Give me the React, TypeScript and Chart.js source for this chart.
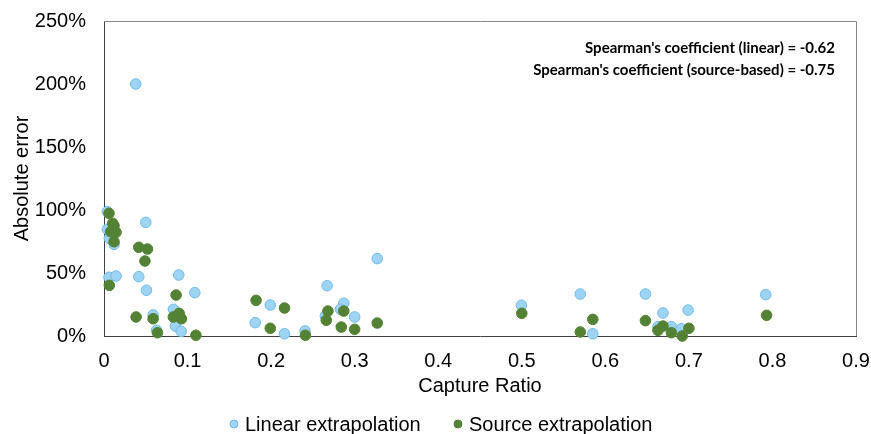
import React, { useEffect, useRef } from "react";
import { Chart, registerables } from "chart.js";

Chart.register(...registerables);

const linearX = [0.038, 0.004, 0.004, 0.0064, 0.012, 0.05, 0.006, 0.0144, 0.0416, 0.0895, 0.0508, 0.1087, 0.0831, 0.0588, 0.0855, 0.063, 0.0923, 0.181, 0.199, 0.216, 0.2406, 0.267, 0.265, 0.287, 0.283, 0.3, 0.327, 0.4996, 0.57, 0.585, 0.648, 0.669, 0.663, 0.679, 0.691, 0.699, 0.792];
const linearY = [2.0, 0.987, 0.847, 0.775, 0.728, 0.902, 0.466, 0.476, 0.471, 0.484, 0.363, 0.344, 0.212, 0.167, 0.079, 0.045, 0.037, 0.106, 0.246, 0.018, 0.04, 0.399, 0.159, 0.26, 0.212, 0.151, 0.614, 0.244, 0.333, 0.018, 0.333, 0.183, 0.074, 0.074, 0.058, 0.206, 0.328];

const sourceX = [0.006, 0.0104, 0.012, 0.008, 0.0144, 0.012, 0.0416, 0.052, 0.049, 0.0064, 0.0863, 0.09, 0.083, 0.0927, 0.0384, 0.0588, 0.064, 0.11, 0.182, 0.199, 0.216, 0.241, 0.268, 0.266, 0.287, 0.284, 0.3, 0.327, 0.5, 0.57, 0.585, 0.648, 0.669, 0.663, 0.679, 0.692, 0.7, 0.793];
const sourceY = [0.974, 0.894, 0.875, 0.828, 0.823, 0.748, 0.704, 0.69, 0.595, 0.402, 0.325, 0.18, 0.151, 0.137, 0.151, 0.137, 0.026, 0.006, 0.283, 0.061, 0.222, 0.006, 0.198, 0.125, 0.198, 0.071, 0.053, 0.103, 0.18, 0.032, 0.132, 0.122, 0.079, 0.045, 0.026, 0.0, 0.061, 0.164];

const seriesNames = ["Linear extrapolation", "Source extrapolation"];
const xTickValues = [0, 0.1, 0.2, 0.3, 0.4, 0.5, 0.6, 0.7, 0.8, 0.9];
const yTickValues = [0, 0.5, 1, 1.5, 2, 2.5];
const annotationLines = [
  "Spearman's coefficient (linear) = -0.62",
  "Spearman's coefficient (source-based) = -0.75",
];

const BLUE_FILL = "#9dd3f3";
const BLUE_BORDER = "#72bbe9";
const GREEN = "#548235";
const FONT = "'Liberation Sans', Arial, sans-serif";

export default function App() {
  const ref = useRef<HTMLCanvasElement | null>(null);

  useEffect(() => {
    document.body.style.margin = "0";
    const canvas = ref.current;
    if (!canvas) return;

    const framePlugin = {
      id: "frame",
      afterDraw(chart: any) {
        const { ctx, chartArea } = chart;
        const { left, right, top, bottom } = chartArea;
        ctx.save();
        ctx.strokeStyle = "#868686";
        ctx.lineWidth = 1;
        ctx.beginPath();
        ctx.moveTo(left, top + 0.5);
        ctx.lineTo(right + 0.5, top + 0.5);
        ctx.lineTo(right + 0.5, bottom);
        ctx.stroke();
        // annotation
        ctx.fillStyle = "#000";
        ctx.font = "bold 15px Lato, 'Open Sans', sans-serif";
        ctx.textAlign = "right";
        ctx.textBaseline = "middle";
        ctx.fillText(annotationLines[0], 835, 48);
        ctx.fillText(annotationLines[1], 835, 70);
        // legend
        const ds = chart.data.datasets;
        ctx.font = `20px ${FONT}`;
        ctx.textAlign = "left";
        const legendY = 424;
        const starts = [234, 458];
        ds.forEach((d: any, i: number) => {
          const x = starts[i];
          ctx.beginPath();
          ctx.arc(x, legendY, 4, 0, Math.PI * 2);
          ctx.fillStyle = d.backgroundColor;
          ctx.fill();
          ctx.strokeStyle = d.borderColor;
          ctx.lineWidth = 1;
          ctx.stroke();
          ctx.fillStyle = "#000";
          ctx.fillText(d.label, x + 11, legendY + 1);
        });
        ctx.restore();
      },
    };

    const chart = new Chart(canvas, {
      type: "scatter",
      data: {
        datasets: [
          {
            label: seriesNames[0],
            data: linearX.map((x, i) => ({ x, y: linearY[i] })),
            backgroundColor: BLUE_FILL,
            borderColor: BLUE_BORDER,
            borderWidth: 1,
            pointRadius: 5.3,
            order: 1,
            clip: false as any,
          },
          {
            label: seriesNames[1],
            data: sourceX.map((x, i) => ({ x, y: sourceY[i] })),
            backgroundColor: GREEN,
            borderColor: GREEN,
            borderWidth: 1,
            pointRadius: 5.3,
            order: 0,
            clip: false as any,
          },
        ],
      },
      options: {
        animation: false,
        responsive: false,
        maintainAspectRatio: false,
        layout: { padding: { left: 0, right: 15, top: 21, bottom: 36 } },
        plugins: { legend: { display: false }, tooltip: { enabled: false } },
        scales: {
          x: {
            type: "linear",
            min: 0,
            max: 0.9,
            afterFit(scale: any) {
              scale.height = 62;
              scale.paddingLeft = 0;
              scale.paddingRight = 0;
            },
            afterBuildTicks(scale: any) {
              scale.ticks = xTickValues.map((v) => ({ value: v }));
            },
            ticks: {
              color: "#000",
              font: { family: FONT, size: 20 },
              padding: 13,
              maxRotation: 0,
              callback: (v: any) => String(Math.round(Number(v) * 10) / 10),
            },
            grid: { display: false, drawTicks: false },
            border: { color: "#404040", width: 1 },
            title: {
              display: true,
              text: "Capture Ratio",
              color: "#000",
              font: { family: FONT, size: 20 },
              padding: { top: 1, bottom: 0 },
            },
          },
          y: {
            type: "linear",
            min: 0,
            max: 2.5,
            afterFit(scale: any) {
              scale.width = 104;
              scale.paddingTop = 0;
              scale.paddingBottom = 0;
            },
            afterBuildTicks(scale: any) {
              scale.ticks = yTickValues.map((v) => ({ value: v }));
            },
            ticks: {
              color: "#000",
              font: { family: FONT, size: 20 },
              padding: 18,
              callback: (v: any) => Math.round(Number(v) * 100) + "%",
            },
            grid: { display: false, drawTicks: false },
            border: { color: "#404040", width: 1 },
            title: {
              display: true,
              text: "Absolute error",
              color: "#000",
              font: { family: FONT, size: 20 },
              padding: { top: 10, bottom: 0 },
            },
          },
        },
      },
      plugins: [framePlugin],
    });

    return () => chart.destroy();
  }, []);

  return (
    <div style={{ width: 871, height: 434 }}>
      <canvas ref={ref} width={871} height={434} style={{ display: "block" }} />
    </div>
  );
}
